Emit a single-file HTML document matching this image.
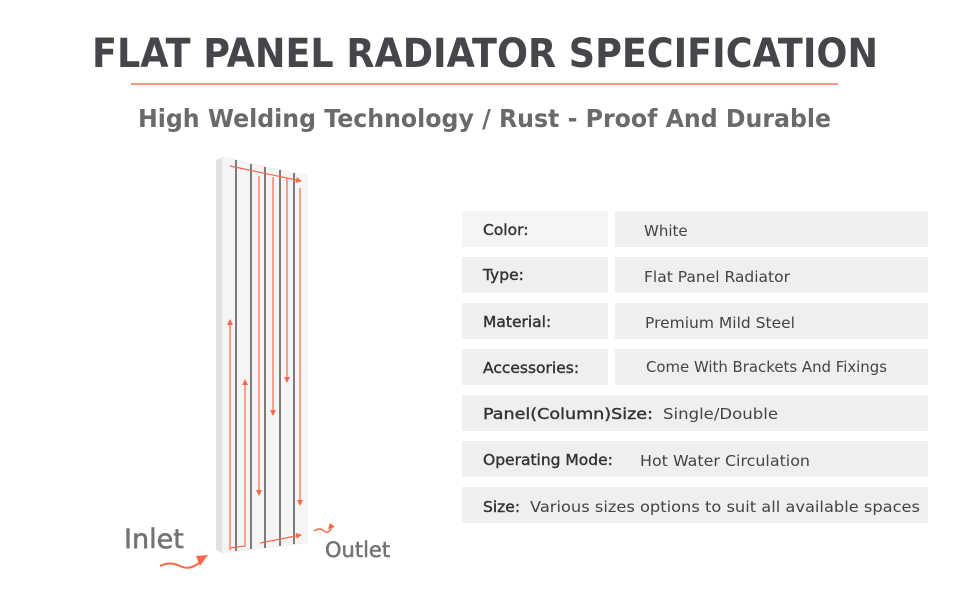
<!DOCTYPE html>
<html><head><meta charset="utf-8"><style>
html,body{margin:0;padding:0;background:#fff;}
svg{display:block}
text{font-family:"DejaVu Sans","Liberation Sans",sans-serif;}
</style></head><body>
<svg width="970" height="600" viewBox="0 0 970 600" xmlns="http://www.w3.org/2000/svg">
<defs>
<marker id="ah" markerWidth="6" markerHeight="6" refX="5" refY="3" orient="auto" markerUnits="userSpaceOnUse"><path d="M0,0 L6,3 L0,6 z" fill="#f26a4b"/></marker>
</defs>
<text x="92" y="67" font-size="40" font-weight="bold" fill="#45454a" textLength="786" lengthAdjust="spacingAndGlyphs">FLAT PANEL RADIATOR SPECIFICATION</text>
<line x1="131" y1="84" x2="838" y2="84" stroke="#f0785a" stroke-width="1.5"/>
<text x="138" y="127" font-size="25" font-weight="bold" fill="#6a6a6a" textLength="693" lengthAdjust="spacingAndGlyphs">High Welding Technology / Rust - Proof And Durable</text>

<!-- radiator -->
<polygon points="216,160 222,157 222,553 216,550" fill="#e2e2e2"/>
<polygon points="222,157 307,176 307,543 222,553" fill="#f5f5f5" stroke="#e6e6e6" stroke-width="0.5"/>
<g stroke="#555" stroke-width="1.5">
<line x1="236" y1="160" x2="236" y2="551"/>
<line x1="251" y1="164" x2="251" y2="549"/>
<line x1="265" y1="167" x2="265" y2="548"/>
<line x1="280" y1="170" x2="280" y2="546"/>
<line x1="294" y1="173" x2="294" y2="544"/>
</g>
<g stroke="#f26a4b" stroke-width="1.2" fill="none" marker-end="url(#ah)">
<line x1="230" y1="166" x2="301" y2="181"/>
<polyline points="230,550 230,320" />
<polyline points="230,548 245,546 245,380"/>
<line x1="259" y1="176" x2="259" y2="495"/>
<line x1="273" y1="177" x2="273" y2="415"/>
<line x1="287" y1="178" x2="287" y2="382"/>
<line x1="300" y1="188" x2="300" y2="505"/>
<line x1="260" y1="543" x2="301" y2="535"/>
</g>
<path d="M160,566 q10,-5 20,0 t20,-4" stroke="#f26a4b" stroke-width="2" fill="none"/>
<path d="M196,556 L208,555 L200,566 z" fill="#f26a4b"/>
<path d="M314,531 q6,-4 10,0 t8,-4" stroke="#f26a4b" stroke-width="1.5" fill="none"/>
<path d="M330,523 L335,527 L328,529 z" fill="#f26a4b"/>
<text x="124" y="548" font-size="27" fill="#737373" stroke="#737373" stroke-width="0.6">Inlet</text>
<text x="325" y="557" font-size="21" fill="#737373" stroke="#737373" stroke-width="0.5">Outlet</text>

<!-- table -->
<g fill="#f0efee">
<rect x="462" y="211" width="146" height="36" fill="#f6f5f4"/><rect x="615" y="211" width="313" height="36"/>
<rect x="462" y="257" width="146" height="36"/><rect x="615" y="257" width="313" height="36"/>
<rect x="462" y="303" width="146" height="36"/><rect x="615" y="303" width="313" height="36"/>
<rect x="462" y="349" width="146" height="36"/><rect x="615" y="349" width="313" height="36"/>
<rect x="462" y="395" width="466" height="36"/>
<rect x="462" y="441" width="466" height="36"/>
<rect x="462" y="487" width="466" height="36"/>
</g>
<g font-size="15.5" fill="#333" stroke="#333" stroke-width="0.4">
<text x="483" y="235">Color:</text>
<text x="483" y="280">Type:</text>
<text x="483" y="327">Material:</text>
<text x="483" y="373">Accessories:</text>
<text x="483" y="419" textLength="170" lengthAdjust="spacingAndGlyphs">Panel(Column)Size:</text>
<text x="483" y="465">Operating Mode:</text>
<text x="483" y="512">Size:</text>
</g>
<g font-size="15" fill="#444">
<text x="644" y="236" font-family="Liberation Sans">White</text>
<text x="644" y="282" font-family="Liberation Sans" font-size="15.5">Flat Panel Radiator</text>
<text x="645" y="328" font-family="Liberation Sans" font-size="15.5">Premium Mild Steel</text>
<text x="646" y="372" textLength="241" lengthAdjust="spacingAndGlyphs">Come With Brackets And Fixings</text>
<text x="663" y="419" textLength="115" lengthAdjust="spacingAndGlyphs">Single/Double</text>
<text x="640" y="466" textLength="170" lengthAdjust="spacingAndGlyphs">Hot Water Circulation</text>
<text x="530" y="512" textLength="390" lengthAdjust="spacingAndGlyphs">Various sizes options to suit all available spaces</text>
</g>
</svg>
</body></html>
